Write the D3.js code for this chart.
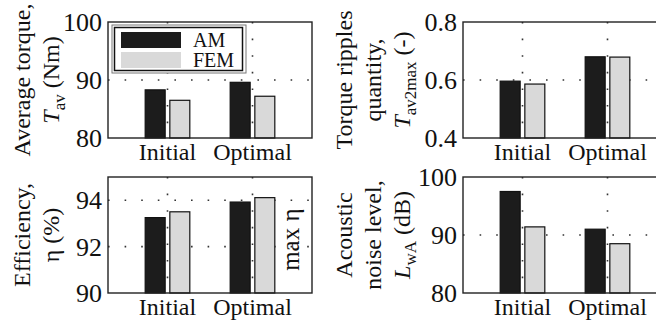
<!DOCTYPE html>
<html>
<head>
<meta charset="utf-8">
<script src="https://cdn.jsdelivr.net/npm/d3@7"></script>
<style>
  html, body { margin: 0; padding: 0; background: #fff; }
  svg { display: block; }
</style>
</head>
<body>
<svg id="chart" width="656" height="324"></svg>
<script>
// ---------- data ----------
const categories = ["Initial", "Optimal"];
const seriesNames = ["AM", "FEM"];

const torqueAM  = [88.3, 89.6];
const torqueFEM = [86.5, 87.2];
const torqueTicks = [80, 90, 100];

const rippleAM  = [0.596, 0.680];
const rippleFEM = [0.586, 0.679];
const rippleTicks = [0.4, 0.6, 0.8];

const effAM  = [93.25, 93.92];
const effFEM = [93.5, 94.11];
const effTicks = [90, 92, 94];

const noiseAM  = [97.5, 91.0];
const noiseFEM = [91.4, 88.5];
const noiseTicks = [80, 90, 100];

// ---------- layout / style ----------
const FONT = "'Liberation Serif', 'Times New Roman', Times, serif";
const colors = { AM: "#1c1c1c", FEM: "#d9d9d9" };
const svg = d3.select("#chart");

function txt(sel) {
  return sel.attr("font-family", FONT).attr("fill", "#111");
}

function drawPanel(p) {
  const g = svg.append("g");
  const x = d3.scaleLinear().domain([0.3, 2.7]).range([p.left, p.left + 204]);
  const y = d3.scaleLinear().domain(p.domain).range([p.bottom, p.top]);
  const catPos = d3.scaleOrdinal().domain(categories).range([1, 2]);
  const offset = d3.scaleOrdinal().domain(seriesNames).range([-0.145, 0.145]);
  const barW = 0.235;

  // grid
  const innerTicks = p.ticks.filter(t => t > p.domain[0] && t < p.domain[1]);
  g.selectAll(".hgrid").data(innerTicks).enter().append("line")
    .attr("x1", x(0.3)).attr("x2", x(2.7))
    .attr("y1", d => y(d)).attr("y2", d => y(d))
    .attr("stroke", "#333").attr("stroke-width", 1.6)
    .attr("stroke-dasharray", "1.6 15");
  g.selectAll(".vgrid").data(categories).enter().append("line")
    .attr("x1", d => x(catPos(d))).attr("x2", d => x(catPos(d)))
    .attr("y1", y(p.domain[1])).attr("y2", y(p.domain[0]))
    .attr("stroke", "#333").attr("stroke-width", 1.6)
    .attr("stroke-dasharray", "1.6 15");

  // bars
  const rows = [];
  categories.forEach((c, i) => {
    rows.push({ cat: c, s: "AM", v: p.am[i] });
    rows.push({ cat: c, s: "FEM", v: p.fem[i] });
  });
  g.selectAll(".bar").data(rows).enter().append("rect")
    .attr("x", d => x(catPos(d.cat) + offset(d.s) - barW / 2))
    .attr("width", d => x(barW) - x(0))
    .attr("y", d => y(d.v))
    .attr("height", d => y(p.domain[0]) - y(d.v))
    .attr("fill", d => colors[d.s])
    .attr("stroke", "#111").attr("stroke-width", 1.2);

  // box
  g.append("rect")
    .attr("x", x(0.3)).attr("y", y(p.domain[1]))
    .attr("width", x(2.7) - x(0.3)).attr("height", y(p.domain[0]) - y(p.domain[1]))
    .attr("fill", "none").attr("stroke", "#222").attr("stroke-width", 1.4);

  // y tick labels
  g.selectAll(".ytl").data(p.ticks).enter().append("text")
    .call(txt)
    .attr("x", p.left - 6).attr("y", d => y(d)).attr("dy", "0.35em")
    .attr("text-anchor", "end").attr("font-size", 26)
    .text(d => p.fmt(d));

  // x tick labels
  g.selectAll(".xtl").data(categories).enter().append("text")
    .call(txt)
    .attr("x", d => x(catPos(d))).attr("y", p.bottom + 22)
    .attr("text-anchor", "middle").attr("font-size", 24)
    .text(d => d);

  // y label lines
  const cy = (p.top + p.bottom) / 2;
  p.labels.forEach(lbl => {
    const t = g.append("text").call(txt)
      .attr("transform", `translate(${lbl.x},${cy}) rotate(-90)`)
      .attr("text-anchor", "middle").attr("font-size", 24);
    lbl.parts.forEach(part => {
      const ts = t.append("tspan").text(part.t);
      if (part.i) ts.attr("font-style", "italic");
      if (part.sub) ts.attr("font-size", 17).attr("dy", 6);
      if (part.up) ts.attr("dy", -6);
    });
  });
  return { x, y, g };
}

const p1 = drawPanel({
  left: 108, top: 22, bottom: 138, domain: [80, 100], ticks: torqueTicks,
  am: torqueAM, fem: torqueFEM, fmt: d3.format("d"),
  labels: [
    { x: 30, parts: [{ t: "Average torque," }] },
    { x: 59, parts: [{ t: "T", i: true }, { t: "av", sub: true }, { t: " (Nm)", up: true }] }
  ]
});

drawPanel({
  left: 463, top: 22, bottom: 138, domain: [0.4, 0.8], ticks: rippleTicks,
  am: rippleAM, fem: rippleFEM, fmt: d3.format(".1f"),
  labels: [
    { x: 352, parts: [{ t: "Torque ripples" }] },
    { x: 381, parts: [{ t: "quantity," }] },
    { x: 410, parts: [{ t: "T", i: true }, { t: "av2max", sub: true }, { t: " (-)", up: true }] }
  ]
});

const p3 = drawPanel({
  left: 108, top: 177, bottom: 293, domain: [90, 95], ticks: effTicks,
  am: effAM, fem: effFEM, fmt: d3.format("d"),
  labels: [
    { x: 30, parts: [{ t: "Efficiency," }] },
    { x: 59, parts: [{ t: "η (%)" }] }
  ]
});

drawPanel({
  left: 463, top: 177, bottom: 293, domain: [80, 100], ticks: noiseTicks,
  am: noiseAM, fem: noiseFEM, fmt: d3.format("d"),
  labels: [
    { x: 352, parts: [{ t: "Acoustic" }] },
    { x: 381, parts: [{ t: "noise level," }] },
    { x: 410, parts: [{ t: "L", i: true }, { t: "wA", sub: true }, { t: " (dB)", up: true }] }
  ]
});

// "max η" annotation in efficiency panel
p3.g.append("text").call(txt)
  .attr("transform", `translate(${p3.x(2.55)},${p3.y(92.3)}) rotate(-90)`)
  .attr("text-anchor", "middle").attr("font-size", 25)
  .text("max η");

// legend in torque panel
const lg = p1.g.append("g");
const lx = p1.x(0.3), ly = p1.y(100);
lg.append("rect").attr("x", lx + 4).attr("y", ly + 3).attr("width", 134).attr("height", 48)
  .attr("fill", "#fff").attr("stroke", "#777").attr("stroke-width", 1);
lg.append("rect").attr("x", lx + 6.5).attr("y", ly + 5.5).attr("width", 128).attr("height", 43)
  .attr("fill", "#fff").attr("stroke", "#111").attr("stroke-width", 1.5);
seriesNames.forEach((s, i) => {
  lg.append("rect").attr("x", lx + 13).attr("y", ly + 10 + i * 20)
    .attr("width", 60).attr("height", 16).attr("fill", colors[s]);
  lg.append("text").call(txt).attr("x", lx + 85).attr("y", ly + 25 + i * 20)
    .attr("font-size", 20).text(s);
});
</script>
</body>
</html>
